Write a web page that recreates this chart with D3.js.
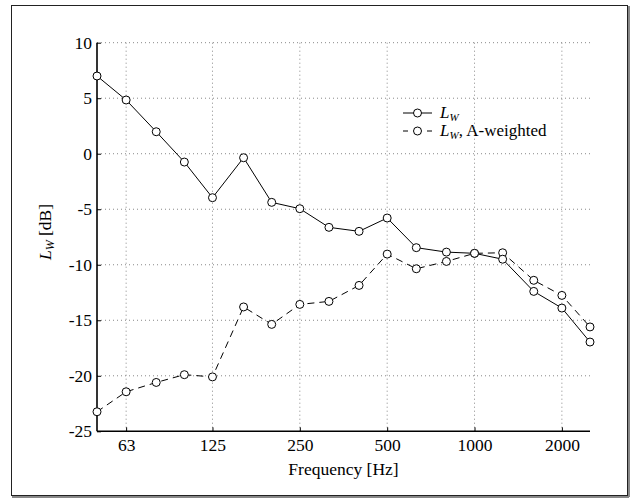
<!DOCTYPE html>
<html><head><meta charset="utf-8">
<script src="https://cdn.jsdelivr.net/npm/d3@7"></script>
<style>body{margin:0;background:#fff}svg{display:block}svg text{font-family:"Liberation Serif","Times New Roman",serif !important;fill:#000}</style>
</head><body><svg id="c" width="636" height="498"></svg>
<script>
const freqs = [50,63,80,100,125,160,200,250,315,400,500,630,800,1000,1250,1600,2000,2500];
const lw = [7.0,4.84,1.98,-0.75,-3.96,-0.36,-4.38,-4.95,-6.63,-6.99,-5.79,-8.46,-8.86,-8.97,-9.5,-12.4,-13.9,-16.96];
const lwA = [-23.24,-21.44,-20.6,-19.9,-20.1,-13.8,-15.37,-13.57,-13.3,-11.86,-9.04,-10.36,-9.7,-8.97,-8.92,-11.4,-12.76,-15.6];
const xTicks = [63,125,250,500,1000,2000];
const yTicks = [-25,-20,-15,-10,-5,0,5,10];
const FS = 17.5;

const svg = d3.select("#c");
// frame with shadow
svg.append("line").attr("x1",629).attr("y1",6).attr("x2",629).attr("y2",497).attr("stroke","#888").attr("stroke-width",2);
svg.append("line").attr("x1",12).attr("y1",497).attr("x2",629).attr("y2",497).attr("stroke","#888").attr("stroke-width",2);
svg.append("rect").attr("x",11.5).attr("y",5.5).attr("width",616).attr("height",490).attr("fill","#fff").attr("stroke","#222").attr("stroke-width",1);

const L=97, R=590, T=42.7, B=431.3;
const x = d3.scaleLog().domain([50,2500]).range([L,R]);
const y = d3.scaleLinear().domain([-25,10]).range([B,T]);

const g = svg.append("g");
// grid
g.selectAll(".gx").data(xTicks).join("line").attr("x1",d=>x(d)).attr("x2",d=>x(d)).attr("y1",T).attr("y2",B)
 .attr("stroke","#888").attr("stroke-width",1).attr("stroke-dasharray","1,3");
g.selectAll(".gy").data(yTicks.filter(d=>d>-25)).join("line").attr("x1",L).attr("x2",R).attr("y1",d=>y(d)).attr("y2",d=>y(d))
 .attr("stroke","#888").attr("stroke-width",1).attr("stroke-dasharray","1,3");

// axes
const xa = d3.axisBottom(x).tickValues(xTicks).tickFormat(d3.format("d")).tickSizeInner(-4).tickSizeOuter(0).tickPadding(7);
const ya = d3.axisLeft(y).tickValues(yTicks).tickFormat(d=>d).tickSizeInner(-4).tickSizeOuter(0).tickPadding(5);
const gx = svg.append("g").attr("transform",`translate(0,${B})`).call(xa);
const gy = svg.append("g").attr("transform",`translate(${L},0)`).call(ya);
[gx,gy].forEach(a=>{
  a.attr("font-family",null).attr("font-size",null);
  a.select(".domain").attr("stroke","#000").attr("stroke-width",1.6);
  a.selectAll(".tick line").attr("stroke","#000").attr("stroke-width",1);
  a.selectAll(".tick text").attr("font-size",FS).attr("fill","#000");
});
gx.select(".domain").attr("d",`M${L},0H${R}`);
gy.select(".domain").attr("d",`M0,${B}V${T}`);

// lines
const line = d3.line().x((d,i)=>x(freqs[i])).y(d=>y(d));
svg.append("path").datum(lwA).attr("d",line).attr("fill","none").attr("stroke","#000").attr("stroke-width",1).attr("stroke-dasharray","7,5");
svg.append("path").datum(lw).attr("d",line).attr("fill","none").attr("stroke","#000").attr("stroke-width",1);
[lwA,lw].forEach(s=>{
  svg.append("g").selectAll("circle").data(s).join("circle").attr("cx",(d,i)=>x(freqs[i])).attr("cy",d=>y(d)).attr("r",4)
   .attr("fill","#fff").attr("stroke","#000").attr("stroke-width",1);
});

// legend
const lg = svg.append("g");
const rows = [{y:113,dash:null,label:""},{y:131,dash:"5,7",label:", A-weighted"}];
rows.forEach(r=>{
  lg.append("line").attr("x1",403).attr("x2",432).attr("y1",r.y).attr("y2",r.y).attr("stroke","#000").attr("stroke-width",1)
    .attr("stroke-dasharray",r.dash);
  lg.append("circle").attr("cx",417.5).attr("cy",r.y).attr("r",4).attr("fill","#fff").attr("stroke","#000");
  const t = lg.append("text").attr("x",440).attr("y",r.y+5).attr("font-size",17);
  t.append("tspan").attr("font-style","italic").text("L");
  t.append("tspan").attr("font-style","italic").attr("font-size",11).attr("dy",2.5).text("W");
  t.append("tspan").attr("dy",-2.5).text(r.label);
});

// axis labels
svg.append("text").attr("x",(L+R)/2).attr("y",475).attr("text-anchor","middle").attr("font-size",FS).text("Frequency [Hz]");
const yl = svg.append("text").attr("transform",`translate(51,232) rotate(-90)`).attr("text-anchor","middle").attr("font-size",FS);
yl.append("tspan").attr("font-style","italic").text("L");
yl.append("tspan").attr("font-style","italic").attr("font-size",12).attr("dy",3).text("W");
yl.append("tspan").attr("dy",-3).text(" [dB]");
</script></body></html>
